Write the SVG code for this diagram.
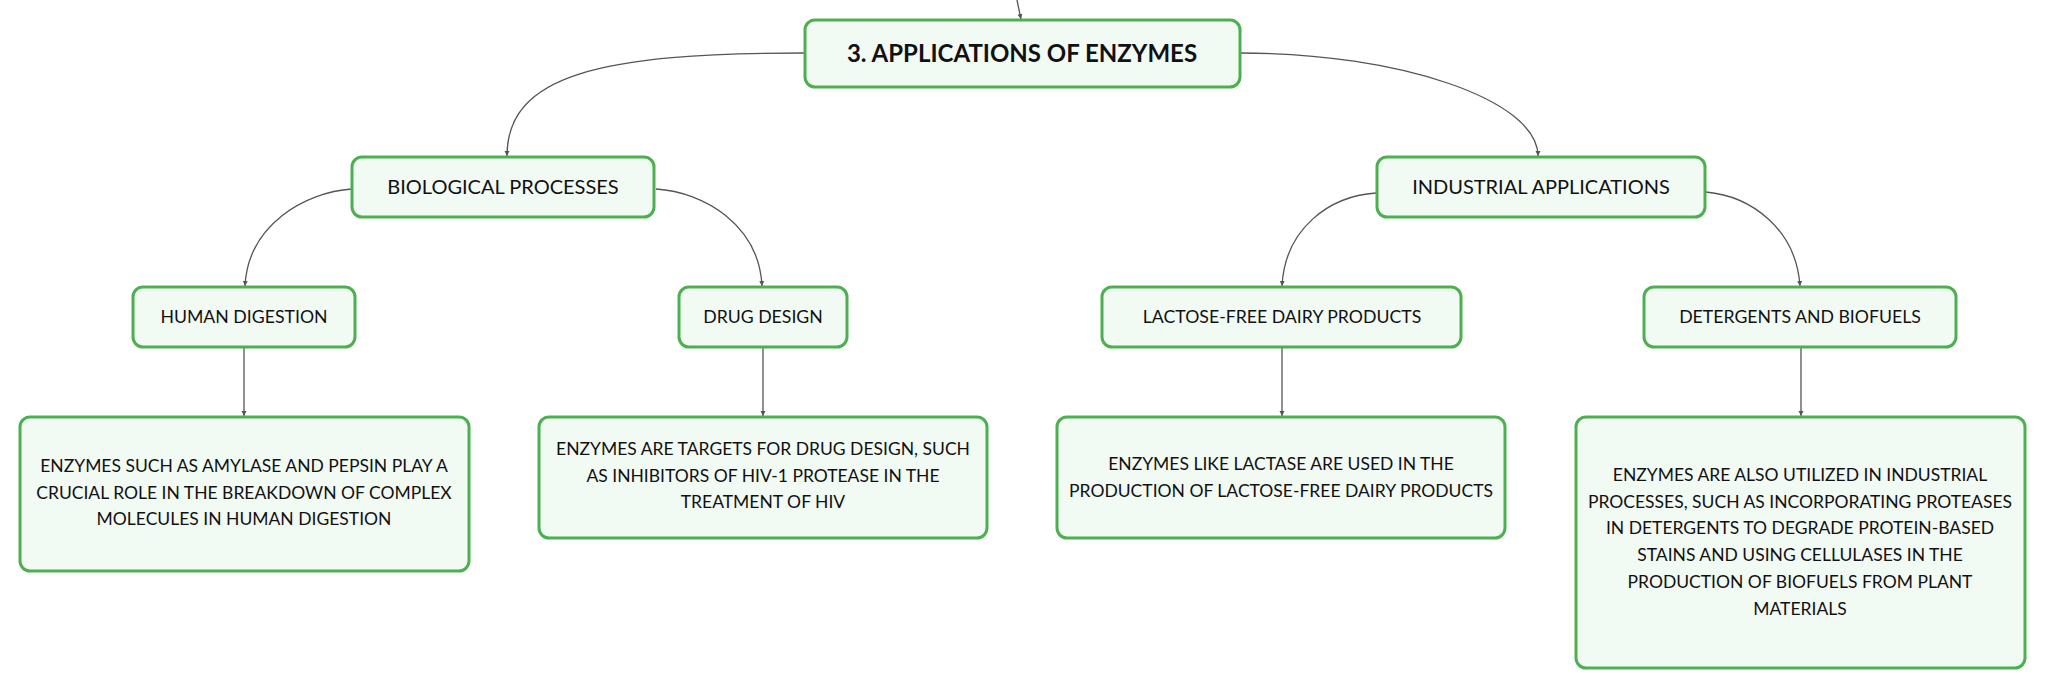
<svg xmlns="http://www.w3.org/2000/svg" width="2046" height="688" viewBox="0 0 2046 688">
<defs>
<marker id="arr" markerUnits="userSpaceOnUse" markerWidth="6" markerHeight="6" refX="5" refY="2.5" orient="auto">
<path d="M0,0 L5,2.5 L0,5 z" fill="#555"/>
</marker>
<style>
.box{fill:#f2faf4;stroke:#4caf50;stroke-width:3}
.conn{fill:none;stroke:#555;stroke-width:1.3;marker-end:url(#arr)}
text{font-family:Lato,"Open Sans","Liberation Sans",sans-serif;fill:#111;text-anchor:middle}
.root{font-size:24px;font-weight:bold}
.l1{font-size:20px}
.l2{font-size:17.7px}
.d{font-size:17.5px}
</style>
</defs>
<rect width="2046" height="688" fill="#ffffff"/>
<g id="connectors">
<path class="conn" d="M1017,0 Q1019,10 1021,19"/>
<path class="conn" d="M805,53 C600,53 507,75 507,156"/>
<path class="conn" d="M1240,53 C1400,53 1538,100 1538,156"/>
<path class="conn" d="M352,189 C305,192 248,225 245,286"/>
<path class="conn" d="M656,189 C704,192 759,225 762,286"/>
<path class="conn" d="M1376,193 C1330,196 1285,228 1282,286"/>
<path class="conn" d="M1706,192 C1750,196 1796,228 1800,286"/>
<path class="conn" d="M244,348 L244,416"/>
<path class="conn" d="M763,348 L763,416"/>
<path class="conn" d="M1282,348 L1282,416"/>
<path class="conn" d="M1801,348 L1801,416"/>
</g>
<g id="root">
<rect class="box" x="805" y="20" width="435" height="67" rx="10"/>
<text class="root" x="1022" y="62">3. APPLICATIONS OF ENZYMES</text>
</g>
<g id="biological">
<rect class="box" x="352" y="157" width="302" height="60" rx="10"/>
<text class="l1" x="503" y="194">BIOLOGICAL PROCESSES</text>
</g>
<g id="industrial">
<rect class="box" x="1377" y="157" width="328" height="60" rx="10"/>
<text class="l1" x="1541" y="194">INDUSTRIAL APPLICATIONS</text>
</g>
<g id="digestion">
<rect class="box" x="133" y="287" width="222" height="60" rx="10"/>
<text class="l2" x="244" y="323">HUMAN DIGESTION</text>
</g>
<g id="drug">
<rect class="box" x="679" y="287" width="168" height="60" rx="10"/>
<text class="l2" x="763" y="323">DRUG DESIGN</text>
</g>
<g id="lactose">
<rect class="box" x="1102" y="287" width="359" height="60" rx="10"/>
<text class="l2" x="1282" y="323">LACTOSE-FREE DAIRY PRODUCTS</text>
</g>
<g id="detergents">
<rect class="box" x="1644" y="287" width="312" height="60" rx="10"/>
<text class="l2" x="1800" y="323">DETERGENTS AND BIOFUELS</text>
</g>
<g id="digestion-detail">
<rect class="box" x="20" y="417" width="449" height="154" rx="10"/>
<text class="d" x="244" y="472">ENZYMES SUCH AS AMYLASE AND PEPSIN PLAY A</text>
<text class="d" x="244" y="498.5">CRUCIAL ROLE IN THE BREAKDOWN OF COMPLEX</text>
<text class="d" x="244" y="525">MOLECULES IN HUMAN DIGESTION</text>
</g>
<g id="drug-detail">
<rect class="box" x="539" y="417" width="448" height="121" rx="10"/>
<text class="d" x="763" y="455">ENZYMES ARE TARGETS FOR DRUG DESIGN, SUCH</text>
<text class="d" x="763" y="481.5">AS INHIBITORS OF HIV-1 PROTEASE IN THE</text>
<text class="d" x="763" y="508">TREATMENT OF HIV</text>
</g>
<g id="lactose-detail">
<rect class="box" x="1057" y="417" width="448" height="121" rx="10"/>
<text class="d" x="1281" y="469.5">ENZYMES LIKE LACTASE ARE USED IN THE</text>
<text class="d" x="1281" y="496.5">PRODUCTION OF LACTOSE-FREE DAIRY PRODUCTS</text>
</g>
<g id="detergents-detail">
<rect class="box" x="1576" y="417" width="449" height="251" rx="10"/>
<text class="d" x="1800" y="481">ENZYMES ARE ALSO UTILIZED IN INDUSTRIAL</text>
<text class="d" x="1800" y="507.7">PROCESSES, SUCH AS INCORPORATING PROTEASES</text>
<text class="d" x="1800" y="534.4">IN DETERGENTS TO DEGRADE PROTEIN-BASED</text>
<text class="d" x="1800" y="561.1">STAINS AND USING CELLULASES IN THE</text>
<text class="d" x="1800" y="588.3">PRODUCTION OF BIOFUELS FROM PLANT</text>
<text class="d" x="1800" y="615.3">MATERIALS</text>
</g>
</svg>
